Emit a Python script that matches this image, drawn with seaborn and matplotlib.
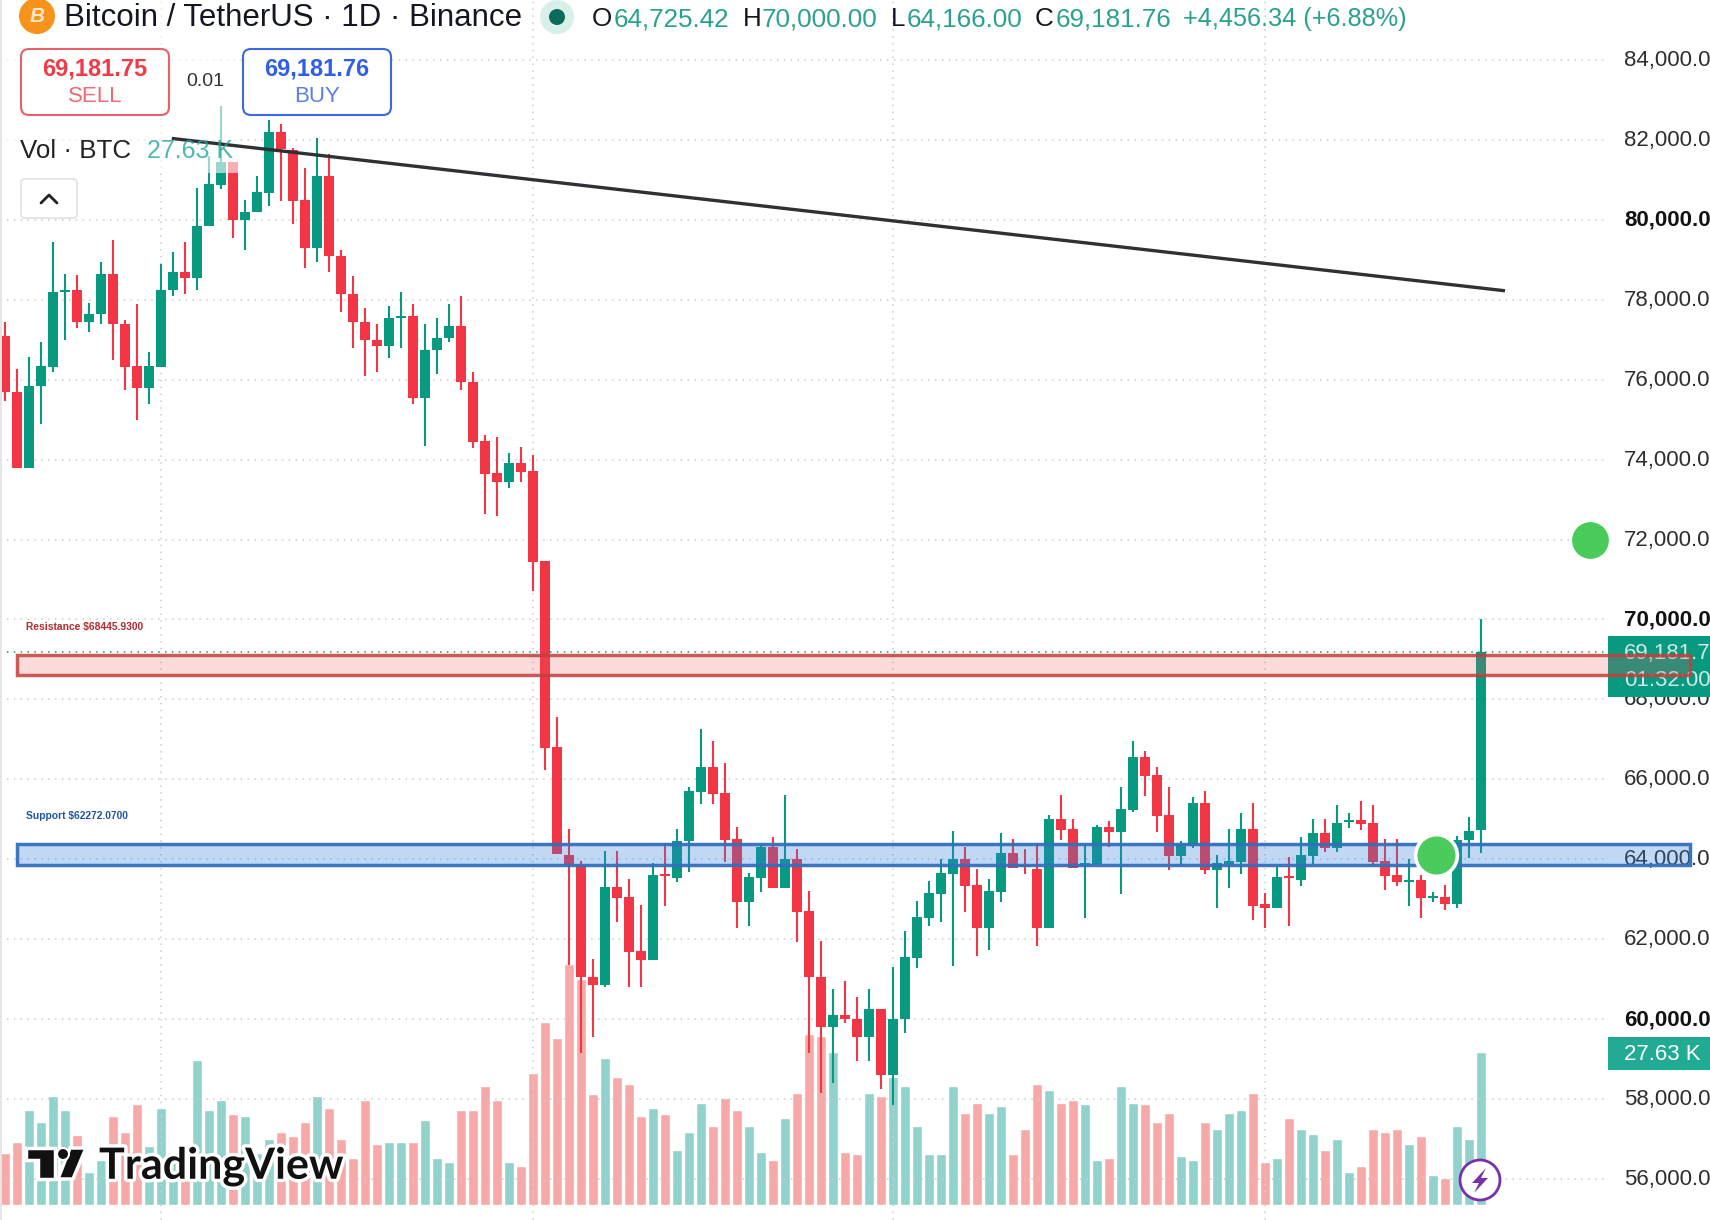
import numpy as np
import pandas as pd
import seaborn as sns
import matplotlib
matplotlib.use("Agg")
import matplotlib.pyplot as plt
from matplotlib.patches import Rectangle, FancyBboxPatch, Circle, Polygon
from matplotlib.transforms import Affine2D
import matplotlib.patheffects as pe

# ---------- data ----------
opens = [77100,75700,73784,75834,76325,78184,78250,77434,77634,78650,77400,76350,75784,76325,78234,78700,78534,79834,80884,81450,
         79984,80184,80684,82200,81750,80500,79284,81100,79100,78150,77450,77000,76834,77534,77600,75534,76734,77034,77350,75950,
         74458,73658,73442,73908,73708,71458,66808,64117,63850,61058,60842,63308,63058,61708,61492,63625,63542,64458,65692,66308,
         65658,64508,62942,63542,64308,63292,64008,62708,61058,59792,60108,60008,59542,60258,58592,59992,61542,62542,63142,63642,
         64008,63358,62292,63192,64158,63850,63758,62292,65008,64758,63825,63892,64808,64692,65242,66558,66108,65108,64092,64325,
         65408,63742,63875,63942,64758,62875,62792,63592,63492,64092,64658,64292,64925,64975,64908,63958,63608,63425,63475,63025,
         63058,62892,64492,64725.42]
closes = [75683,73784,75850,76350,78200,78250,77434,77650,78650,77384,76325,75784,76350,78250,78700,78534,79850,80900,81450,79984,
          80200,80700,82200,81767,80484,79284,81100,79084,78134,77434,76984,76834,77550,77600,75534,76750,77050,77350,75934,74434,
          73642,73442,73908,73692,71442,66792,64142,63850,61042,60842,63308,63042,61692,61492,63608,63575,64458,65708,66308,65642,
          64492,62942,63558,64308,63292,64008,62692,61042,59792,60108,59992,59542,60258,58592,60008,61558,62558,63158,63658,64008,
          63342,62292,63208,64158,63792,63808,62292,65017,64742,63792,63908,64808,64692,65258,66558,66092,65092,64092,64392,65408,
          63742,63908,63958,64758,62842,62792,63558,63525,64108,64658,64292,64908,64975,64875,63942,63592,63442,63475,63042,63075,
          62892,64492,64708,69181.76]
highs = [77450,76267,76558,76950,79450,78650,78617,77917,78950,79500,77500,77900,76700,78900,79200,79450,80800,81600,82850,81450,
         80500,81100,82500,82400,81800,81300,82050,81650,79250,78600,77800,77400,77850,78200,77900,77400,77550,77900,78100,76200,
         74608,74567,74158,74308,74108,71458,67558,64767,63958,61517,64208,64208,63508,62858,63908,64408,64758,65808,67258,66958,
         66408,64808,63658,64358,64558,65608,64258,63208,61958,60758,60958,60558,60758,60258,61308,62208,62958,63458,64008,64708,
         64308,63758,63508,64658,64508,64258,64408,65108,65608,65008,64392,64858,64958,65808,66958,66708,66308,65808,64458,65558,
         65708,64108,64758,65158,65408,63158,63808,64058,64558,65008,65008,65358,65158,65458,65358,64508,64508,64008,63608,63175,
         63358,64592,65058,70000]
lows = [75475,73784,73784,74884,76184,76984,77284,77184,77384,76484,75734,74984,75384,76325,78084,78134,78234,79834,80767,79534,
        79234,80184,80334,80484,79884,78784,78934,78684,77684,76784,76084,76184,76534,76784,75384,74334,76134,76934,75734,74284,
        72642,72592,73292,73442,70725,66242,64142,61367,59142,59542,60792,62442,60792,60792,61492,62842,63442,63692,65392,65392,
        63942,62292,62342,63192,63292,63292,61942,59142,58142,58392,59892,58942,58942,58242,57842,59642,61292,62342,62442,61342,
        62692,61592,61742,62942,63792,63642,61842,62292,64492,63792,62542,63892,64308,63142,65192,65592,64692,63742,63842,64292,
        63642,62792,63292,63642,62492,62275,62792,62342,63342,63892,64192,64192,64792,64742,63842,63242,63342,62842,62542,62942,
        62742,62792,64042,64166]
volumes_k = [9.3,11.4,17.1,15.0,19.6,17.1,12.7,5.9,8.1,16.1,13.2,18.2,10.6,17.5,9.5,8.0,26.2,17.1,18.9,16.4,
             16.1,9.3,12.0,13.2,12.4,15.0,19.6,17.5,12.0,8.4,18.9,11.0,11.3,11.3,11.3,15.3,8.4,7.7,17.1,17.1,
             21.4,18.9,7.7,7.0,23.9,33.0,30.1,43.5,40.9,20.0,26.5,23.2,21.8,16.0,17.5,16.4,9.9,13.1,18.5,14.2,
             19.3,17.1,14.2,9.5,8.1,15.7,20.3,30.8,30.5,27.6,9.5,9.2,20.3,19.6,23.2,21.4,14.2,9.2,9.2,21.4,
             16.7,18.5,16.7,17.8,9.2,13.8,21.8,20.7,18.5,18.9,18.2,8.1,8.4,21.4,18.5,18.2,14.9,16.7,8.8,8.1,
             14.9,13.8,16.7,17.1,20.3,7.7,8.4,15.7,13.8,12.8,9.9,12.0,5.9,7.0,13.8,13.1,13.8,11.0,12.4,5.5,
             4.8,14.2,12.0,27.63]
price_ticks = [84000,82000,80000,78000,76000,74000,72000,70000,68000,66000,64000,62000,60000,58000,56000]
bold_ticks = [80000,70000,60000]
month_starts = [13,44,74,105]
resistance_zone = (68600,69120)
support_zone = (63862,64375)
zone_span = (1.0,140.4)
trend_x = [13.9,125.0]
trend_y = [82037,78225]
signal_x = [132.08,119.25]
signal_y = [72000,64100]
last_close = 69181.76

# ---------- style ----------
W,H = 1710,1220
UP,DOWN = "#089981","#f23645"
UP_V,DOWN_V = "#92d2cc","#f7a9a7"
INK = "#131722"
sns.set_theme(style="white")
plt.rcParams["font.family"] = ["Liberation Sans","DejaVu Sans"]

fig = plt.figure(figsize=(W/100,H/100),dpi=100,facecolor="white")
rect = [0,0,1604/W,1]
ax_vol = fig.add_axes(rect,zorder=0)
ax = fig.add_axes(rect,zorder=1)
ax.patch.set_alpha(0)
idx = np.arange(len(opens))
up = np.array(closes)>=np.array(opens)
XLIM = (-5/12,133.25)

# volume
df = pd.DataFrame({"i":idx,"vol":volumes_k,"dir":np.where(up,"up","down")})
sns.barplot(data=df,x="i",y="vol",hue="dir",palette={"up":UP_V,"down":DOWN_V},native_scale=True,
            dodge=False,gap=0,width=0.78,errorbar=None,legend=False,saturation=1,ax=ax_vol)
ax_vol.set_xlim(*XLIM)
ax_vol.set_ylim(-2.71,217.6)
ax_vol.axis("off")

# candles
colors = np.where(up,UP,DOWN)
ax.vlines(idx,lows,highs,colors=colors,linewidth=1.5,zorder=3)
ax.bar(idx,np.abs(np.array(closes)-np.array(opens)),bottom=np.minimum(opens,closes),width=0.78,color=colors,linewidth=0,zorder=3.1)
ax.set_xlim(*XLIM)
ax.set_ylim(54974,85501)

# axes / grid
sns.despine(ax=ax,left=True,bottom=True,right=True,top=True)
GRID = dict(color="#c9ccd3",linewidth=1.1,linestyle=(0,(1,3.5)))
ax.set_xticks(month_starts)
ax.set_xticklabels([])
ax.set_yticks(price_ticks)
ax.set_yticklabels([f"{v:,.2f}" for v in price_ticks])
ax.grid(True,**GRID)
ax.yaxis.tick_right()
ax.tick_params(axis="y",length=0,pad=14.4,labelsize=16,labelcolor="#2e2e2e")
ax.tick_params(axis="x",length=0)
for v,t in zip(price_ticks,ax.yaxis.get_major_ticks()):
    t.label2.set_transform(t.label2.get_transform()+Affine2D().translate(0,2))
    if v in bold_ticks:
        t.label2.set_fontweight("bold")
        t.label2.set_color("#111111")

ax.axhline(last_close,color=UP,linewidth=1.1,linestyle=(0,(1,3.5)),zorder=2)

# pixel helper for chart furniture
PX = Affine2D().scale(1,-1).translate(0,H)
def box(x0,y0,x1,y1,z=6,**kw):
    p = Rectangle((x0,y0),x1-x0,y1-y0,transform=PX,clip_on=False,zorder=z,**kw)
    ax.add_patch(p); return p
def rbox(x0,y0,x1,y1,z=6,r=8,**kw):
    p = FancyBboxPatch((x0,y0),x1-x0,y1-y0,boxstyle=f"round,pad=0,rounding_size={r}",transform=PX,clip_on=False,zorder=z,**kw)
    ax.add_patch(p); return p
def txt(x,y,s,size=16,color=INK,ha="left",va="center",z=7,**kw):
    return ax.text(x,y,s,fontsize=size,color=color,ha=ha,va=va,transform=PX,zorder=z,clip_on=False,**kw)
def poly(pts,z=7,**kw):
    p = Polygon(pts,transform=PX,clip_on=False,zorder=z,**kw)
    ax.add_patch(p); return p
def circ(x,y,r,z=7,**kw):
    p = Circle((x,y),r,transform=PX,clip_on=False,zorder=z,**kw)
    ax.add_patch(p); return p

# legend wash over the candles
box(0,0,240,173,z=4,facecolor="white",alpha=0.6,linewidth=0)

# trend line
ax.plot(trend_x,trend_y,color="#303134",linewidth=2.4,zorder=5,clip_on=False,solid_capstyle="butt")

# price label boxes
box(1608,636,1710,697,z=6,facecolor=UP,linewidth=0)
txt(1624,653,"69,181.76",size=16,color="#cfe9e4")
txt(1624,680,"01:32:00",size=16,color="#cfe9e4")
box(1608,1037,1710,1070,z=6,facecolor="#22ab94",linewidth=0)
txt(1624,1055,"27.63 K",size=16,color="white")

# zones
for (lo,hi),fc,ec in [(resistance_zone,(0.93,0.35,0.35,0.22),(0.76,0.25,0.24,0.85)),
                      (support_zone,(0.20,0.50,0.88,0.30),(0.20,0.44,0.74,0.95))]:
    ax.add_patch(Rectangle((zone_span[0],lo),zone_span[1]-zone_span[0],hi-lo,facecolor=fc,edgecolor=ec,
                           linewidth=2.5,clip_on=False,zorder=8))
txt(26,627,"Resistance $68445.9300",size=7.4,color="#b02a2a",weight="bold")
txt(26,816,"Support $62272.0700",size=7.4,color="#1c55a5",weight="bold")

# signal dots
ax.scatter([signal_x[0]],[signal_y[0]],s=700,color="#4acb5c",linewidth=0,zorder=9,clip_on=False)
ax.scatter([signal_x[1]],[signal_y[1]],s=900,color="#4acb5c",edgecolor="white",linewidth=2.6,zorder=9,clip_on=False)

# header
circ(37,16,18,facecolor="#f7931a",linewidth=0)
txt(37,17,"B",size=15,color="#ffe9c9",ha="center",weight="bold",style="italic")
txt(64,18,"Bitcoin / TetherUS · 1D · Binance",size=22.5,color=INK)
circ(557,17,17,facecolor="#d9efea",linewidth=0)
circ(557,17,8,facecolor="#0b6b5a",linewidth=0)
VAL = "#2aa18f"
for lx,l,vx,v in [(592,"O",614,"64,725.42"),(743,"H",762,"70,000.00"),(891,"L",907,"64,166.00"),(1035,"C",1056,"69,181.76")]:
    txt(lx,19,l,size=18.7,color=INK)
    txt(vx,19,v,size=18.7,color=VAL)
txt(1183,19,"+4,456.34 (+6.88%)",size=18.2,color=VAL)

# sell/buy
rbox(21,49,169,115,facecolor="white",edgecolor="#e8606a",linewidth=1.5)
txt(95,69,"69,181.75",size=17,color="#ef3a48",ha="center",weight="bold")
txt(95,97,"SELL",size=16,color="#ef6a72",ha="center")
txt(205,82,"0.01",size=14,color="#333333",ha="center")
rbox(243,49,391,115,facecolor="white",edgecolor="#3d68e0",linewidth=1.5)
txt(317,69,"69,181.76",size=17,color="#2f5fe8",ha="center",weight="bold")
txt(317,97,"BUY",size=16,color="#5a7fe6",ha="center")
txt(20,151,"Vol · BTC",size=18.6,color="#222222")
txt(147,151,"27.63 K",size=18,color="#26a69a",alpha=0.8)
rbox(21,179,77,218,r=4,facecolor="white",edgecolor="#e2e4e8",linewidth=1.3)
ax.plot([41,49,57],[203,195,203],transform=PX,color="#222222",linewidth=2,clip_on=False,zorder=7)

# TradingView logo
halo = [pe.withStroke(linewidth=5,foreground="white")]
for pts in ([(26,1148),(55,1148),(55,1179),(38,1179),(38,1160),(26,1160)],
            [(70,1148),(86,1148),(73,1179),(58,1179)]):
    poly(pts,facecolor="#111111",edgecolor="white",linewidth=2.5,joinstyle="miter")
circ(63,1154,6,facecolor="#111111",edgecolor="white",linewidth=1.5)
txt(99,1166,"TradingView",size=31,color="#111111",weight="bold",path_effects=halo,family="Lato")

# lightning badge
circ(1480,1180,20,facecolor="white",edgecolor="#7b2fa8",linewidth=2)
poly([(1486,1168),(1472,1183),(1479,1183),(1474,1193),(1488,1178),(1481,1178)],facecolor="#7b2fa8",linewidth=0)

# left edge strip
box(0,0,2,H,z=10,facecolor="#e6e6e6",linewidth=0)

fig.savefig("out.png",dpi=100,facecolor="white")
